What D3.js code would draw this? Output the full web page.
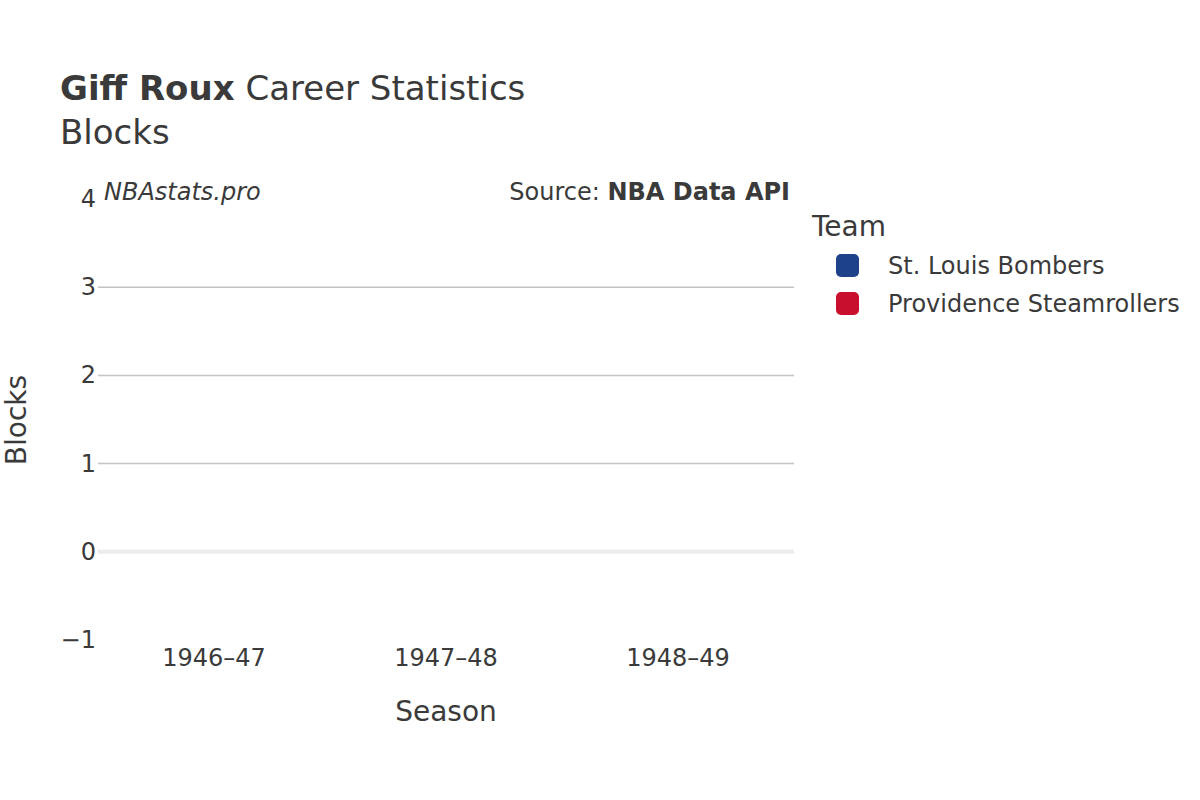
<!DOCTYPE html>
<html>
<head>
<meta charset="utf-8">
<script src="https://cdn.jsdelivr.net/npm/d3@7"></script>
<style>
  body { margin: 0; background: #fff; }
  text { font-family: "DejaVu Sans", sans-serif; fill: #3a3a3a; }
</style>
</head>
<body>
<svg id="chart" width="1200" height="800"></svg>
<script>
const seasons = ["1946–47", "1947–48", "1948–49"];
const teams = ["St. Louis Bombers", "Providence Steamrollers"];
const teamColors = ["#1d428a", "#c8102e"];
// blocks per season for each team (no blocks recorded in that era)
const bombersBlocks = [0, 0, 0];
const steamrollersBlocks = [0, 0, 0];
const yTicks = [-1, 0, 1, 2, 3, 4];

const svg = d3.select("#chart");
const margin = {left: 98, right: 406, top: 199, bottom: 160};
const width = 1200 - margin.left - margin.right;

const x = d3.scaleBand().domain(seasons).range([margin.left, margin.left + width]);
const y = d3.scaleLinear().domain([-1, 4]).range([640, 199]);
const color = d3.scaleOrdinal().domain(teams).range(teamColors);

// grid
svg.append("g").selectAll("line")
    .data(yTicks.filter(d => d > 0 && d < 4))
    .join("line")
    .attr("x1", margin.left).attr("x2", margin.left + width)
    .attr("y1", d => y(d)).attr("y2", d => y(d))
    .attr("stroke", "#c4c4c4").attr("stroke-width", 1.5);

svg.append("line")
    .attr("x1", margin.left).attr("x2", margin.left + width)
    .attr("y1", y(0)).attr("y2", y(0))
    .attr("stroke", "#ececec").attr("stroke-width", 4);

// bars (grouped)
const x1 = d3.scaleBand().domain(teams).range([0, x.bandwidth()]).padding(0.1);
const series = [bombersBlocks, steamrollersBlocks];
teams.forEach((t, ti) => {
    svg.append("g").selectAll("rect")
        .data(series[ti])
        .join("rect")
        .attr("x", (d, i) => x(seasons[i]) + x1(t))
        .attr("width", x1.bandwidth())
        .attr("y", d => Math.min(y(d), y(0)))
        .attr("height", d => Math.abs(y(d) - y(0)))
        .attr("fill", color(t));
});

// y tick labels
svg.append("g").selectAll("text")
    .data(yTicks)
    .join("text")
    .attr("x", 96).attr("y", d => y(d) + 8)
    .attr("text-anchor", "end")
    .style("font-size", "24px")
    .text(d => d < 0 ? "−" + Math.abs(d) : d);

// x tick labels
svg.append("g").selectAll("text")
    .data(seasons)
    .join("text")
    .attr("x", d => x(d) + x.bandwidth() / 2).attr("y", 666)
    .attr("text-anchor", "middle")
    .style("font-size", "24px")
    .text(d => d);

// axis titles
svg.append("text").attr("x", 446).attr("y", 721)
    .attr("text-anchor", "middle").style("font-size", "28px").text("Season");
svg.append("text").attr("transform", "translate(26,420) rotate(-90)")
    .attr("text-anchor", "middle").style("font-size", "28px").text("Blocks");

// title
const title = svg.append("text").attr("x", 60).attr("y", 100).style("font-size", "34px");
title.append("tspan").style("font-weight", "bold").text("Giff Roux");
title.append("tspan").text(" Career Statistics");
svg.append("text").attr("x", 60).attr("y", 144).style("font-size", "34px").text("Blocks");

// annotations
svg.append("text").attr("x", 104).attr("y", 200)
    .style("font-size", "24px").style("font-style", "italic").text("NBAstats.pro");
const src = svg.append("text").attr("x", 790).attr("y", 200)
    .attr("text-anchor", "end").style("font-size", "24px");
src.append("tspan").text("Source: ");
src.append("tspan").style("font-weight", "bold").text("NBA Data API");

// legend
svg.append("text").attr("x", 812).attr("y", 236).style("font-size", "28px").text("Team");
const lg = svg.append("g").selectAll("g")
    .data(teams)
    .join("g")
    .attr("transform", (d, i) => `translate(836,${254 + i * 38})`);
lg.append("rect").attr("width", 23).attr("height", 23).attr("rx", 5)
    .attr("fill", d => color(d));
lg.append("text").attr("x", 52).attr("y", 20).style("font-size", "24px").text(d => d);
</script>
</body>
</html>
